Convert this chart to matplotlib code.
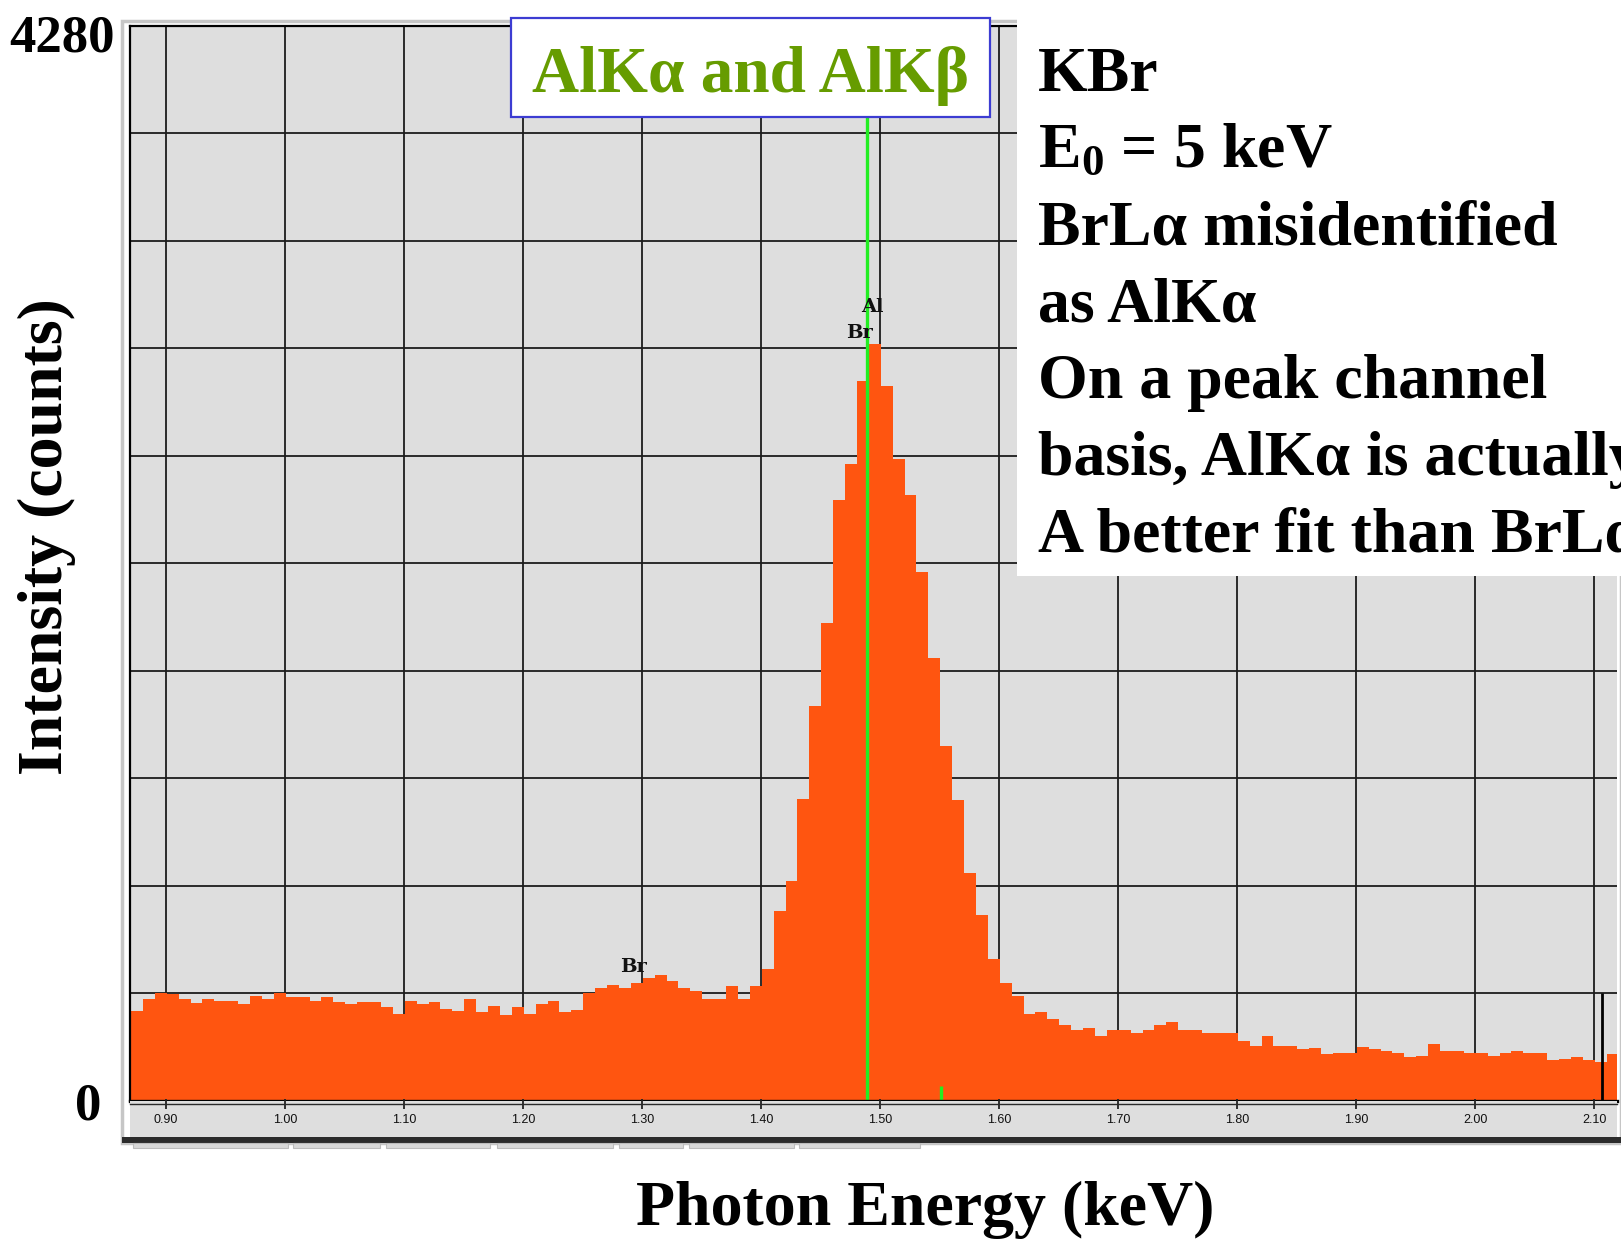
import numpy as np
import matplotlib
matplotlib.use("Agg")
import matplotlib.pyplot as plt
from matplotlib.patches import Rectangle

# ---------------------------------------------------------------- data
E_START = 0.8705      # keV, lower edge of the first channel
CH_WIDTH = 0.01       # keV per channel

COUNTS = [
    360, 406, 431, 426, 406, 392, 406, 399, 399, 387,
    418, 406, 431, 412, 412, 399, 412, 394, 387, 394,
    394, 375, 348, 399, 387, 394, 367, 360, 406, 355,
    380, 342, 374, 348, 387, 399, 354, 362, 430, 450,
    462, 450, 470, 490, 500, 476, 450, 439, 406, 406,
    456, 408, 456, 527, 758, 877, 1202, 1573, 1904, 2394,
    2534, 2866, 3012, 2847, 2557, 2412, 2106, 1763, 1414, 1197,
    909, 739, 566, 471, 418, 348, 355, 328, 302, 284,
    291, 259, 284, 284, 272, 284, 303, 316, 284, 284,
    272, 272, 272, 240, 219, 257, 219, 219, 207, 212,
    187, 193, 193, 213, 207, 201, 193, 175, 181, 225,
    200, 200, 193, 193, 181, 193, 200, 193, 193, 163,
    168, 175, 163, 156, 187,
]

X_TICKS = [0.90, 1.00, 1.10, 1.20, 1.30, 1.40, 1.50,
           1.60, 1.70, 1.80, 1.90, 2.00, 2.10]
X_TICK_LABELS = ["0.90", "1.00", "1.10", "1.20", "1.30", "1.40", "1.50",
                 "1.60", "1.70", "1.80", "1.90", "2.00", "2.10"]
X_RANGE = (0.8696, 2.1192)

Y_MAX = 4280
Y_GRID = [428, 856, 1284, 1712, 2140, 2568, 2996, 3424, 3852]
Y_END_LABELS = ["0", "4280"]

AL_KA_E = 1.489        # AlKα line marker
AL_KB_E = 1.551        # AlKβ line marker
AL_KB_MARK = 60        # counts, height of the AlKβ marker
CURSOR_E = 2.107       # spectrum cursor
CURSOR_TOP = 428

PEAK_LABELS = ["Al", "Br", "Br"]
PEAK_LABEL_E = [1.4931, 1.4830, 1.2931]
PEAK_LABEL_Y = [3140, 3036, 515]

TITLE = "AlKα and AlKβ"
NOTES = ["KBr", r"E$_0$ = 5 keV", "BrLα misidentified", "as AlKα",
         "On a peak channel", "basis, AlKα is actually",
         "A better fit than BrLα"]
XLABEL = "Photon Energy (keV)"
YLABEL = "Intensity (counts)"

# ---------------------------------------------------------------- style
W, H, DPI = 1621, 1240, 100
SERIF_BOLD = dict(family="Liberation Serif", fontweight="bold")
plt.rcParams.update({
    "mathtext.fontset": "custom",
    "mathtext.rm": "Liberation Serif:bold",
    "mathtext.it": "Liberation Serif:bold:italic",
    "mathtext.bf": "Liberation Serif:bold",
})

PANEL = "#dedede"
BAR = "#ff5510"
GREEN = "#22ee22"
GRID = "#1c1c1c"


def fx(px):
    return px / W


def fy(py):
    return 1 - py / H


fig = plt.figure(figsize=(W / DPI, H / DPI), dpi=DPI, facecolor="white")

# light outer frame of the spectrum window
fig.add_artist(Rectangle((fx(122), fy(1143)), fx(1621) - fx(122), fy(21) - fy(1143),
                         transform=fig.transFigure, fill=False,
                         ec="#c6c6c6", lw=2.5, zorder=0))

# ---------------------------------------------------------------- spectrum
ax = fig.add_axes([fx(130), fy(1101), fx(1617) - fx(130), fy(25.8) - fy(1101)])
ax.set_facecolor(PANEL)
ax.set_xlim(*X_RANGE)
ax.set_ylim(0, Y_MAX)

ax.set_xticks(X_TICKS)
ax.set_yticks(Y_GRID)
ax.tick_params(length=0, labelbottom=False, labelleft=False)
ax.grid(True, color=GRID, lw=1.3)
ax.set_axisbelow(True)

for side in ("top", "left"):
    ax.spines[side].set_color("black")
    ax.spines[side].set_linewidth(1.6)
ax.spines["right"].set_visible(False)
ax.spines["bottom"].set_color("black")
ax.spines["bottom"].set_linewidth(2.4)
ax.spines["bottom"].set_zorder(6)

edges = E_START + CH_WIDTH * np.arange(len(COUNTS) + 1)
ax.stairs(COUNTS, edges, fill=True, color=BAR, zorder=2)

ax.plot([AL_KA_E, AL_KA_E], [0, Y_MAX], color=GREEN, lw=2.4, zorder=5,
        solid_capstyle="butt")
ax.plot([AL_KB_E, AL_KB_E], [0, AL_KB_MARK], color=GREEN, lw=2.4, zorder=5,
        solid_capstyle="butt")
ax.plot([CURSOR_E, CURSOR_E], [0, CURSOR_TOP], color="black", lw=2.0, zorder=5,
        solid_capstyle="butt")

for s, e, y in zip(PEAK_LABELS, PEAK_LABEL_E, PEAK_LABEL_Y):
    ax.text(e, y, s, ha="center", va="baseline", fontsize=14,
            family="DejaVu Serif", fontweight="bold", color="#111111", zorder=6)

# ---------------------------------------------------------------- energy scale strip
sax = fig.add_axes([fx(130), fy(1137), fx(1617) - fx(130), fy(1101) - fy(1137)])
sax.set_facecolor(PANEL)
sax.set_xlim(*X_RANGE)
sax.set_ylim(0, 1)
for side in ("top", "left", "right"):
    sax.spines[side].set_visible(False)
sax.spines["bottom"].set_position(("axes", 33 / 36))
sax.spines["bottom"].set_color("#2a2a2a")
sax.spines["bottom"].set_linewidth(1.0)
sax.set_yticks([])
sax.set_xticks(X_TICKS)
sax.set_xticklabels(X_TICK_LABELS, family="Liberation Sans", fontsize=9,
                    color="#111111")
sax.tick_params(axis="x", direction="inout", length=7, width=1.3,
                color="#222222", pad=3.5)

# window bottom edge and status segments
fig.add_artist(Rectangle((fx(122), fy(1143)), fx(1621) - fx(122), fy(1137) - fy(1143),
                         transform=fig.transFigure, color="#2b2b2b", lw=0, zorder=1))
for x0, x1 in [(133, 288), (293, 380), (386, 490), (497, 613),
               (619, 683), (689, 794), (799, 920)]:
    fig.add_artist(Rectangle((fx(x0), fy(1148)), fx(x1) - fx(x0), fy(1143) - fy(1148),
                             transform=fig.transFigure, fc="#d8d8d8",
                             ec="#bcbcbc", lw=0.8, zorder=1))

# ---------------------------------------------------------------- axis texts
fig.text(fx(115), fy(51), Y_END_LABELS[1], ha="right", va="baseline",
         fontsize=38, **SERIF_BOLD)
fig.text(fx(101), fy(1120), Y_END_LABELS[0], ha="right", va="baseline",
         fontsize=38, **SERIF_BOLD)
fig.text(fx(47), fy(537), YLABEL, rotation=90, ha="center", va="center",
         fontsize=46, **SERIF_BOLD)
fig.text(fx(925.5), fy(1225), XLABEL, ha="center", va="baseline",
         fontsize=46, **SERIF_BOLD)

# ---------------------------------------------------------------- title box
fig.add_artist(Rectangle((fx(511), fy(117)), fx(990) - fx(511), fy(18.5) - fy(117),
                         transform=fig.transFigure, fc="white",
                         ec="#3c3cd2", lw=1.6, zorder=3))
fig.text(fx(750.5), fy(91.5), TITLE, ha="center", va="baseline", fontsize=47,
         color="#669c00", zorder=4, **SERIF_BOLD)

# ---------------------------------------------------------------- notes panel
fig.add_artist(Rectangle((fx(1016.6), fy(576)), fx(1621) - fx(1016.6), fy(0) - fy(576),
                         transform=fig.transFigure, fc="white", lw=0, zorder=3))
for i, line in enumerate(NOTES):
    fig.text(fx(1037.6), fy(91 + 76.8 * i), line, ha="left", va="baseline",
             fontsize=46, color="black", zorder=4, **SERIF_BOLD)

fig.savefig("out.png", dpi=DPI, facecolor="white")
